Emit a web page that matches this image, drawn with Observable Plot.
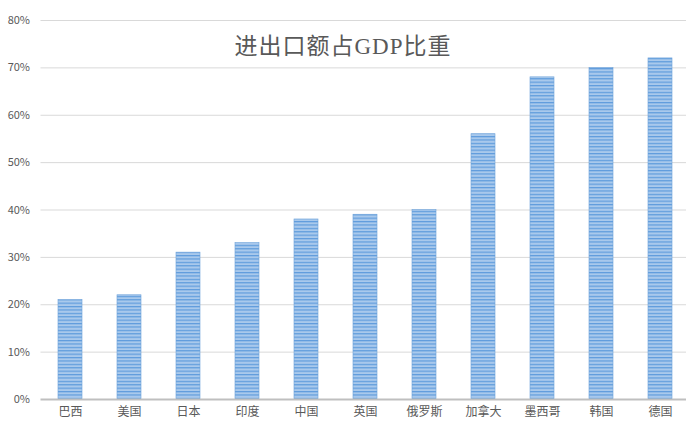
<!DOCTYPE html>
<html><head><meta charset="utf-8">
<script src="https://cdn.jsdelivr.net/npm/d3@7"></script>
<script src="https://cdn.jsdelivr.net/npm/@observablehq/plot@0.6"></script>
<style>
body{margin:0;background:#fff;}
#wrap{position:relative;width:686px;height:426px;overflow:hidden;}
#title{position:absolute;left:0;width:686px;top:27px;text-align:center;font-family:"Liberation Serif","Noto Sans CJK SC",serif;font-size:23px;color:#595959;letter-spacing:1px;}
</style></head>
<body><div id="wrap"><div id="title">进出口额占GDP比重</div></div>
<script>
const countries = ["巴西","美国","日本","印度","中国","英国","俄罗斯","加拿大","墨西哥","韩国","德国"];
const shares = [0.21,0.22,0.31,0.33,0.38,0.39,0.40,0.56,0.68,0.70,0.72];
const yTicks = [0,0.1,0.2,0.3,0.4,0.5,0.6,0.7,0.8];
const data = countries.map((c,i)=>({country:c, value:shares[i]}));

const chart = Plot.plot({
  width:686, height:426,
  marginTop:20, marginBottom:27, marginLeft:40.5, marginRight:-3.5,
  style:{fontFamily:"'Noto Sans CJK SC', sans-serif", fontSize:"11px", color:"#595959", background:"#fff", overflow:"hidden"},
  x:{domain:countries, paddingInner:0.593, paddingOuter:0.2965, round:false, label:null, tickSize:0, tickPadding:8},
  y:{domain:[0,0.8], ticks:yTicks, tickFormat:d=>Math.round(d*100)+"%", label:null, tickSize:0, tickPadding:11},
  marks:[
    Plot.gridY(yTicks.filter(d=>d>0), {stroke:"#d9d9d9", strokeOpacity:1, strokeWidth:1}),
    Plot.barY(data, {x:"country", y:"value", fill:"url(#stripes)", stroke:"#6fa3da", strokeWidth:0.6}),
    Plot.ruleY([0], {stroke:"#bfbfbf", strokeWidth:2}),
    Plot.axisX({tickSize:0, tickPadding:8, fontSize:12, label:null})
  ]
});
const ns="http://www.w3.org/2000/svg";
const defs=document.createElementNS(ns,"defs");
defs.innerHTML=`<pattern id="stripes" patternUnits="userSpaceOnUse" width="8" height="3.4">
<rect width="8" height="3.4" fill="#a9c9ec"/>
<rect y="0" width="8" height="1.2" fill="#5e9bdc"/></pattern>`;
chart.insertBefore(defs, chart.firstChild);
chart.style.position="absolute"; chart.style.left="0"; chart.style.top="0";
const wrap=document.getElementById("wrap");
wrap.insertBefore(chart, wrap.firstChild);
</script></body></html>
